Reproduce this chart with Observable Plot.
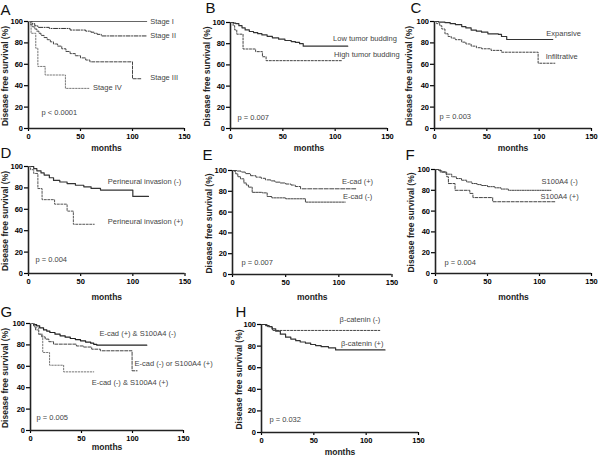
<!DOCTYPE html>
<html><head><meta charset="utf-8">
<script src="https://cdn.jsdelivr.net/npm/d3@7"></script>
<script src="https://cdn.jsdelivr.net/npm/@observablehq/plot@0.6"></script>
<style>
html,body{margin:0;padding:0;background:#fff;}
#chart{position:relative;width:600px;height:456px;overflow:hidden;font-family:"Liberation Sans",Arial,sans-serif;}
#chart g[aria-label*="tick label"]{font-weight:bold;}
</style></head><body><div id="chart"></div>
<script>
// ---- shared axis ticks / titles ----
const xTicks = [0, 50, 100, 150];
const yTicks = [0, 20, 40, 60, 80, 100];
const xTitle = "months";
const yTitle = "Disease free survival (%)";
const panelLetters = ["A", "B", "C", "D", "E", "F", "G", "H"];
const pValues = ["p < 0.0001", "p = 0.007", "p = 0.003", "p = 0.004", "p = 0.007", "p = 0.004", "p = 0.005", "p = 0.032"];

// ---- A: stage ----
const namesA = ["Stage I", "Stage II", "Stage III", "Stage IV"];
const stageI_t = [0, 114];
const stageI_s = [100, 100];
const stageII_t = [0, 3.5, 6, 9, 20, 40, 55, 60, 63, 66, 70, 114];
const stageII_s = [100, 98, 96, 94.5, 93.5, 92, 91, 90, 89, 88, 86.5, 86.5];
const stageIII_t = [0, 2, 4, 6, 8, 10, 12, 15, 18, 21, 24, 28, 32, 36, 40, 45, 50, 55, 59, 100, 109];
const stageIII_s = [100, 97, 95, 93, 91, 89, 87, 85, 83, 81, 79, 77, 74.5, 72, 70, 68, 66, 64, 62.3, 46.5, 46.5];
const stageIV_t = [0, 2.5, 7, 9, 16, 35.5, 58];
const stageIV_s = [100, 89, 75, 58, 50, 37.5, 37.5];

// ---- B: tumor budding ----
const namesB = ["Low tumor budding", "High tumor budding"];
const lowBud_t = [0, 3, 5, 8, 11, 14, 18, 22, 26, 30, 35, 40, 46, 52, 58, 62, 66, 69.5, 112];
const lowBud_s = [100, 99.5, 99, 97, 95, 93, 91.5, 90.5, 89.5, 88.3, 87, 85.5, 84.3, 83, 82, 81.2, 80, 77.7, 77.7];
const highBud_t = [0, 2.5, 4, 6, 12, 24, 30.5, 34, 107];
const highBud_s = [100, 97, 93, 89, 75, 72.5, 67.7, 64, 64];

// ---- C: growth pattern ----
const namesC = ["Expansive", "Infiltrative"];
const expans_t = [0, 4, 10, 15, 20, 26, 30, 35, 40, 45, 51, 61, 64, 69, 113];
const expans_s = [100, 99.5, 99, 98, 97, 95.3, 94, 92, 91, 90, 88.5, 88, 86, 83.2, 83.2];
const infil_t = [0, 2, 5, 7, 10, 13, 16, 20, 26, 30, 35, 40, 45, 54, 64, 99, 115];
const infil_s = [100, 98, 96, 93, 88.5, 86, 84.5, 83, 80.7, 79, 77, 75.5, 74.5, 73, 71.3, 61, 61];

// ---- D: perineural invasion ----
const namesD = ["Perineural invasion (-)", "Perineural invasion (+)"];
const pniNeg_t = [0, 5, 8, 12, 15, 20, 24, 30, 37, 45, 53, 60, 69, 100, 115];
const pniNeg_s = [100, 98, 96, 94, 92, 89.5, 87, 85.5, 84, 82.5, 81, 79.5, 78, 72, 72];
const pniPos_t = [0, 2, 5, 9, 13, 25, 37, 43, 63];
const pniPos_s = [100, 97, 93.5, 79.4, 69, 64.8, 58.3, 46, 46];

// ---- E: E-cadherin ----
const namesE = ["E-cad (+)", "E-cad (-)"];
const ecadPos_t = [0, 4, 8, 12, 17, 22, 27, 31, 36, 40, 45, 50, 55, 59, 64, 116];
const ecadPos_s = [100, 99.5, 98.5, 97, 95, 93.6, 92.5, 91, 90, 88.8, 88, 87, 86, 84.6, 82.4, 82.4];
const ecadNeg_t = [0, 2, 3, 5, 7.5, 10.7, 13, 15, 18.5, 28, 32.6, 37, 50, 68.6, 106];
const ecadNeg_s = [100, 99, 96.8, 94, 92, 88, 86, 84, 79, 78.5, 75, 73.7, 72.8, 69.6, 69.6];

// ---- F: S100A4 ----
const namesF = ["S100A4 (-)", "S100A4 (+)"];
const s100Neg_t = [0, 3, 6, 10, 15.6, 20, 25, 30, 35, 40, 44, 50, 57, 63, 70, 111];
const s100Neg_s = [100, 99, 97.8, 95.5, 93, 91.3, 89.7, 88, 86.5, 85.5, 84.6, 83.5, 82.4, 81.2, 80, 80];
const s100Pos_t = [0, 4.5, 10.8, 12.4, 18.8, 33, 36, 55, 116];
const s100Pos_s = [100, 97.4, 93, 86.5, 80, 77, 73, 69, 69];

// ---- G: combined ----
const namesG = ["E-cad (+) & S100A4 (-)", "E-cad (-) or S100A4 (+)", "E-cad (-) & S100A4 (+)"];
const comb1_t = [0, 3, 6, 9, 12.8, 16, 19, 24, 29, 34, 39, 44, 49, 54, 59, 62, 65, 114];
const comb1_s = [100, 99, 97.8, 96, 94, 92.8, 91.6, 90, 88.5, 87.2, 86, 85, 83.8, 82.6, 81.6, 80.5, 79.7, 79.7];
const comb2_t = [0, 3, 5, 8, 11, 14.4, 18, 22.6, 45, 52, 60, 68.5, 99.6, 104.5];
const comb2_s = [100, 97.8, 94, 90, 87.5, 85.4, 83, 80.7, 79, 78, 76, 74.5, 55.8, 55.8];
const comb3_t = [0, 4, 8, 12, 18.7, 32.5, 62];
const comb3_s = [100, 96, 90, 72.9, 61, 54.8, 54.8];

// ---- H: beta-catenin ----
const namesH = ["β-catenin (-)", "β-catenin (+)"];
const bcatNeg_t = [0, 5.7, 10.5, 113];
const bcatNeg_s = [100, 98, 94.5, 94.5];
const bcatPos_t = [0, 4, 7.3, 10, 13.6, 18, 23, 28, 32.7, 37, 42, 47, 51.7, 57, 64, 70.8, 118];
const bcatPos_s = [100, 99, 98, 96, 93.8, 91, 88.3, 86.5, 85, 83.8, 82.7, 81.5, 80.5, 79.5, 78.4, 76.5, 76.5];

// ---- panel layout (page pixels: x0, x150, y100, y0) and annotation anchors ----
const panels = [
  {frame: [28, 184, 21, 128], letterAt: [0, 4], monthsY: 148, yTitleX: 5,
   curves: [
     {t: stageI_t, s: stageI_s, stroke: "#666"},
     {t: stageII_t, s: stageII_s, stroke: "#333", dash: "4,1.5,1,1.5"},
     {t: stageIII_t, s: stageIII_s, stroke: "#444", dash: "3,1.5"},
     {t: stageIV_t, s: stageIV_s, stroke: "#777", dash: "1.5,1.5"}],
   labels: [[117, 100], [117, 87], [117, 47.4], [62, 38]], names: namesA, p: [12.5, 15.2]},
  {frame: [230, 387, 22, 128], letterAt: [205, 2], monthsY: 148, yTitleX: 206.7,
   curves: [
     {t: lowBud_t, s: lowBud_s, stroke: "#333", w: 1.2},
     {t: highBud_t, s: highBud_s, stroke: "#444", dash: "2,1.5"}],
   labels: [[98, 85.2], [99, 69.8]], names: namesB, p: [6.7, 10.7]},
  {frame: [434, 591, 21, 128], letterAt: [410, 2], monthsY: 148, yTitleX: 408.3,
   curves: [
     {t: expans_t, s: expans_s, stroke: "#333", w: 1.2},
     {t: infil_t, s: infil_s, stroke: "#444", dash: "2,1.5"}],
   labels: [[106.8, 88.5], [106.2, 67.3]], names: namesC, p: [4.8, 11.2]},
  {frame: [28, 184.5, 166, 273], letterAt: [0, 147], monthsY: 296.5, yTitleX: 5,
   curves: [
     {t: pniNeg_t, s: pniNeg_s, stroke: "#333", w: 1.2},
     {t: pniPos_t, s: pniPos_s, stroke: "#555", dash: "2,1.5"}],
   labels: [[76, 86], [76, 48.6]], names: namesD, p: [6.7, 13.1]},
  {frame: [232, 391.5, 170, 274], letterAt: [202, 149], monthsY: 297, yTitleX: 208.3,
   curves: [
     {t: ecadPos_t, s: ecadPos_s, stroke: "#444", dash: "4,1.5"},
     {t: ecadNeg_t, s: ecadNeg_s, stroke: "#444", dash: "2,1"}],
   labels: [[103, 89.4], [104, 75]], names: namesE, p: [8.4, 11.5]},
  {frame: [435, 591, 169, 273], letterAt: [405, 149], monthsY: 296.5, yTitleX: 411,
   curves: [
     {t: s100Neg_t, s: s100Neg_s, stroke: "#444", dash: "1.5,1"},
     {t: s100Pos_t, s: s100Pos_s, stroke: "#444", dash: "3,1.5"}],
   labels: [[102, 88.5], [101, 74.4]], names: namesF, p: [8.6, 10.6]},
  {frame: [30, 183, 323, 430], letterAt: [0, 306], monthsY: 447, yTitleX: 5,
   curves: [
     {t: comb1_t, s: comb1_s, stroke: "#222", w: 1.2},
     {t: comb2_t, s: comb2_s, stroke: "#444", dash: "3,1.5"},
     {t: comb3_t, s: comb3_s, stroke: "#777", dash: "1.5,1.5"}],
   labels: [[67.6, 90.4], [102, 62.9], [60, 45.1]], names: namesG, p: [5.9, 12.1]},
  {frame: [261, 418, 324, 432], letterAt: [235, 306], monthsY: 452, yTitleX: 238.3,
   curves: [
     {t: bcatNeg_t, s: bcatNeg_s, stroke: "#444", dash: "2,1.5"},
     {t: bcatPos_t, s: bcatPos_s, stroke: "#333", w: 1.2}],
   labels: [[74.6, 104.6], [76, 82.1]], names: namesH, p: [7.6, 12]}
];

const chart = document.getElementById("chart");
const mL = 40, mR = 14, mT = 24, mB = 26;

panels.forEach((cfg, i) => {
  const [x0, x1, y1, y0] = cfg.frame;
  const W = mL + (x1 - x0) + mR;
  const H = mT + (y0 - y1) + mB;
  const labelRows = cfg.names.map((n, k) => ({x: cfg.labels[k][0], y: cfg.labels[k][1], text: n}));
  const marks = [
    Plot.axisX({ticks: xTicks, tickSize: 3, tickPadding: 2, fontSize: 7.5, fontWeight: "bold", label: null, strokeWidth: 1.2}),
    Plot.axisY({ticks: yTicks, tickSize: 4, tickPadding: 1.5, fontSize: 7.5, fontWeight: "bold", label: null, strokeWidth: 1.2}),
    Plot.ruleY([0], {strokeWidth: 1.6, stroke: "#222"}),
    Plot.ruleX([0], {strokeWidth: 1.6, stroke: "#222"}),
    ...cfg.curves.map(c => Plot.line(c.t, {x: c.t, y: c.s, curve: "step-after", stroke: c.stroke, strokeWidth: c.w ?? 1, strokeDasharray: c.dash})),
    Plot.text(labelRows, {x: "x", y: "y", text: "text", textAnchor: "start", lineAnchor: "middle", fontSize: 7.5, fill: "#444"}),
    Plot.text([pValues[i]], {x: [cfg.p[0]], y: [cfg.p[1]], textAnchor: "start", lineAnchor: "middle", fontSize: 7.5, fill: "#444"}),
    Plot.text([panelLetters[i]], {frameAnchor: "top-left", dx: cfg.letterAt[0] - x0, dy: cfg.letterAt[1] - y1, lineAnchor: "top", textAnchor: "start", fontSize: 15, fill: "#111"}),
    Plot.text([xTitle], {frameAnchor: "bottom", dy: cfg.monthsY - y0, textAnchor: "middle", lineAnchor: "middle", fontSize: 8.5, fontWeight: "bold", fill: "#222"}),
    Plot.text([yTitle], {frameAnchor: "left", rotate: -90, dx: cfg.yTitleX - x0, dy: 1, textAnchor: "middle", lineAnchor: "middle", fontSize: 8.5, fontWeight: "bold", fill: "#222"})
  ];
  const svg = Plot.plot({
    width: W, height: H,
    marginLeft: mL, marginRight: mR, marginTop: mT, marginBottom: mB,
    x: {domain: [0, 150]},
    y: {domain: [0, 100]},
    marks
  });
  svg.style.position = "absolute";
  svg.style.left = (x0 - mL) + "px";
  svg.style.top = (y1 - mT) + "px";
  svg.style.overflow = "visible";
  svg.style.background = "transparent";
  svg.style.maxWidth = "none";
  svg.style.fontFamily = '"Liberation Sans", Arial, sans-serif';
  chart.appendChild(svg);
});
</script>
</body></html>
